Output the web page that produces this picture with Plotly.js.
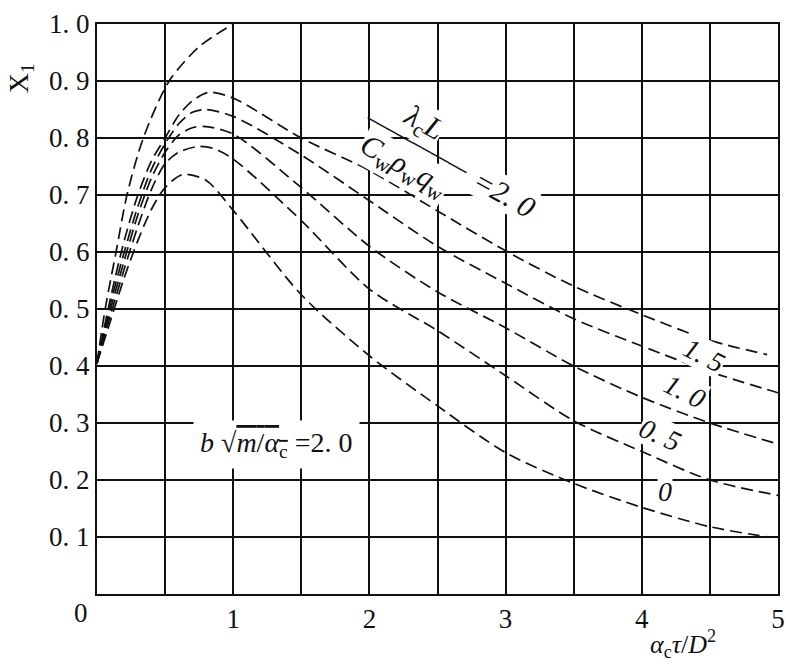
<!DOCTYPE html>
<html>
<head>
<meta charset="utf-8">
<script src="https://cdn.plot.ly/plotly-3.0.1.min.js"></script>
<style>
  body { margin: 0; background: #fff; }
  #myDiv { width: 790px; height: 665px; }
</style>
</head>
<body>
<div id="myDiv"></div>
<script>
// curves; the steep one is cut at X1 = 1.0
var xSteep = [0, 0.06, 0.14, 0.22, 0.34, 0.53, 0.75, 1.0];
var ySteep = [0.405, 0.5, 0.6, 0.7, 0.8, 0.9, 0.96, 1.0];

var x20 = [0, 0.1, 0.2, 0.3, 0.4, 0.5, 0.6, 0.7, 0.82, 1.0, 1.5, 2, 2.5, 3, 3.5, 4, 4.5, 4.92];
var y20 = [0.405, 0.52, 0.62, 0.70, 0.76, 0.80, 0.84, 0.865, 0.88, 0.87, 0.80, 0.743, 0.672, 0.602, 0.54, 0.49, 0.445, 0.42];

var x15 = [0, 0.1, 0.2, 0.3, 0.4, 0.5, 0.6, 0.7, 0.8, 1.0, 1.5, 2, 2.5, 3, 3.5, 4, 4.5, 5];
var y15 = [0.405, 0.51, 0.60, 0.68, 0.745, 0.79, 0.825, 0.845, 0.85, 0.838, 0.77, 0.69, 0.61, 0.545, 0.483, 0.435, 0.39, 0.353];

var x10 = [0, 0.1, 0.2, 0.3, 0.4, 0.5, 0.6, 0.7, 0.8, 1.0, 1.5, 2, 2.5, 3, 3.5, 4, 4.5, 5];
var y10 = [0.405, 0.50, 0.585, 0.665, 0.73, 0.775, 0.805, 0.818, 0.82, 0.807, 0.713, 0.61, 0.53, 0.467, 0.40, 0.345, 0.30, 0.263];

var x05 = [0, 0.1, 0.2, 0.3, 0.4, 0.5, 0.6, 0.74, 0.85, 1.0, 1.5, 2, 2.5, 3, 3.5, 4, 4.5, 5];
var y05 = [0.405, 0.49, 0.57, 0.645, 0.71, 0.755, 0.775, 0.785, 0.782, 0.763, 0.655, 0.535, 0.462, 0.383, 0.304, 0.25, 0.20, 0.173];

var x00 = [0, 0.1, 0.2, 0.3, 0.4, 0.5, 0.63, 0.8, 1.0, 1.5, 2, 2.5, 3, 3.5, 4, 4.5, 4.93];
var y00 = [0.405, 0.48, 0.555, 0.62, 0.675, 0.713, 0.736, 0.726, 0.673, 0.525, 0.418, 0.33, 0.248, 0.194, 0.152, 0.118, 0.10];

var xTicks = [0, 0.5, 1, 1.5, 2, 2.5, 3, 3.5, 4, 4.5, 5];
var xTickText = ['', '', '1', '', '2', '', '3', '', '4', '', '5'];
var yTicks = [0, 0.1, 0.2, 0.3, 0.4, 0.5, 0.6, 0.7, 0.8, 0.9, 1.0];
var yTickText = ['', '0. 1', '0. 2', '0. 3', '0. 4', '0. 5', '0. 6', '0. 7', '0. 8', '0. 9', '1. 0'];

var serif = '"Liberation Serif", "Times New Roman", serif';
var ink = '#111';
var dashLine = {color: ink, width: 1.7, dash: '12px,6px', shape: 'spline', smoothing: 0.8};

function curve(x, y) {
  return {x: x, y: y, type: 'scatter', mode: 'lines', line: dashLine,
          hoverinfo: 'skip', showlegend: false};
}

var data = [
  curve(xSteep, ySteep),
  curve(x20, y20),
  curve(x15, y15),
  curve(x10, y10),
  curve(x05, y05),
  curve(x00, y00)
];

function lab(x, y, text, angle, size, extra) {
  var a = {x: x, y: y, xref: 'x', yref: 'y', text: text, showarrow: false,
           textangle: angle, font: {family: serif, size: size, color: ink},
           bgcolor: '#fff', borderpad: 0};
  for (var k in extra) a[k] = extra[k];
  return a;
}

var annotations = [
  // origin label
  {x: 0, y: 0, xref: 'x', yref: 'y', text: '0', showarrow: false,
   xshift: -16, yshift: -19, font: {family: serif, size: 27, color: ink}},
  // axis titles
  {x: -0.113, y: 0.905, xref: 'paper', yref: 'paper', xanchor: 'center', yanchor: 'middle',
   text: 'X<sub>1</sub>', showarrow: false, textangle: -90,
   font: {family: serif, size: 28, color: ink}},
  {x: 4.30, y: -0.088, xref: 'x', yref: 'paper', xanchor: 'center', yanchor: 'middle',
   text: '<i>α</i><sub>c</sub><i>τ</i>/<i>D</i><sup>2</sup>',
   showarrow: false, font: {family: serif, size: 26, color: ink}},
  // parameter label  λcL / (Cw ρw qw) = 2.0
  lab(2.254, 0.750, '<i>C</i><sub>w</sub><i>ρ</i><sub>w</sub><i>q</i><sub>w</sub>', 29, 30),
  lab(2.393, 0.824, '<i>λ</i><sub>c</sub><i>L</i>', 29, 30),
  lab(2.35, 0.788, '───────────', 29, 17, {font: {family: 'DejaVu Sans', size: 17, color: ink},
      bgcolor: 'rgba(0,0,0,0)'}),
  lab(2.99, 0.703, '<i>=2. 0</i>', 29, 30),
  // curve labels
  lab(4.46, 0.418, '<i>1. 5</i>', 27, 28),
  lab(4.317, 0.356, '<i>1. 0</i>', 27, 28),
  lab(4.13, 0.279, '<i>0. 5</i>', 24, 28),
  lab(4.17, 0.179, '<i>0</i>', 0, 28),
  lab(1.32, 0.262,
      '<i>b</i> √<span style="text-decoration:overline"><i>m</i>/<i>α</i><sub>c</sub></span> =2. 0', 0, 28,
      {borderpad: 6})
];

var layout = {
  width: 790,
  height: 665,
  margin: {l: 97, r: 12, t: 24, b: 71},
  paper_bgcolor: '#fff',
  plot_bgcolor: '#fff',
  showlegend: false,
  xaxis: {
    range: [0, 5],
    tickmode: 'array', tickvals: xTicks, ticktext: xTickText,
    showgrid: true, gridcolor: ink, gridwidth: 2,
    zeroline: false, showline: true, mirror: true, linecolor: ink, linewidth: 2,
    ticks: '', ticklen: 0,
    tickfont: {family: serif, size: 27, color: ink},
    fixedrange: true
  },
  yaxis: {
    range: [0, 1.0],
    tickmode: 'array', tickvals: yTicks, ticktext: yTickText,
    showgrid: true, gridcolor: ink, gridwidth: 2,
    zeroline: false, showline: true, mirror: true, linecolor: ink, linewidth: 2,
    ticks: '', ticklen: 0,
    tickfont: {family: serif, size: 27, color: ink},
    fixedrange: true
  },
  annotations: annotations
};

Plotly.newPlot('myDiv', data, layout, {displayModeBar: false, staticPlot: true});
</script>
</body>
</html>
